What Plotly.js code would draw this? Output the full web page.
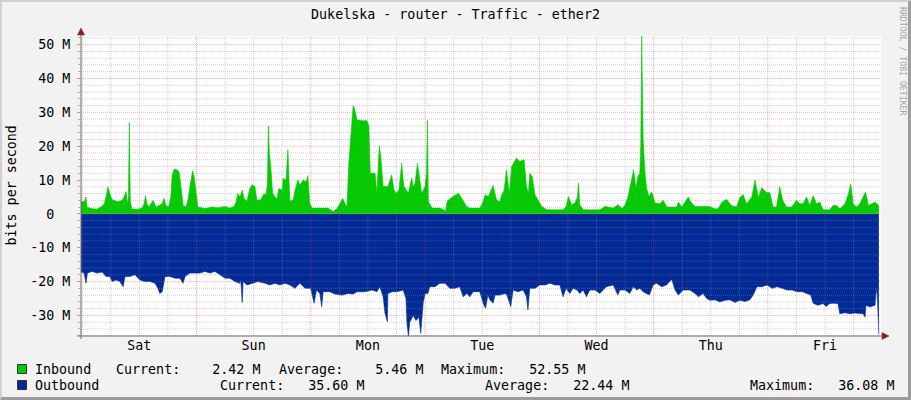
<!DOCTYPE html>
<html><head><meta charset="utf-8">
<script src="https://cdn.plot.ly/plotly-3.0.1.min.js"></script>
<style>
html,body{margin:0;padding:0;background:#F2F2F2;}
#wrap{position:relative;width:911px;height:400px;overflow:hidden;}
#chart{width:911px;height:400px;}
#frame{position:absolute;left:0;top:0;width:911px;height:400px;box-sizing:border-box;border-top:2px solid #D0D0D0;border-left:2px solid #D0D0D0;border-right:3px solid #9C9C9C;border-bottom:3px solid #9C9C9C;pointer-events:none;}
</style></head><body>
<div id="wrap"><div id="chart"></div><div id="frame"></div></div>
<script>
// ---- data (hours since Saturday 00:00, values in Mbit/s) ----
const chartTitle = 'Dukelska - router - Traffic - ether2';
const dayNames = ['Sat','Sun','Mon','Tue','Wed','Thu','Fri'];
const dayTickVals = [12,36,60,84,108,132,156];
const yTickVals = [-30,-20,-10,0,10,20,30,40,50];
const yTickText = ['-30 M','-20 M','-10 M','0\u00a0\u00a0','10 M','20 M','30 M','40 M','50 M'];
const seriesNames = ['Inbound','Outbound'];
const statNames = ['Current','Average','Maximum'];
const inStats = [2.42, 5.46, 52.55];
const outStats = [35.60, 22.44, 36.08];

const inTime = [-0.25,0.4,0.8,1.0,2.1,3.1,3.9,4.6,5.0,5.4,5.8,6.3,7.5,8.4,8.8,9.2,9.5,9.7,9.9,10.1,10.4,11.5,12.6,13.0,13.3,13.6,14.0,14.9,15.5,16.3,16.8,17.2,17.6,18.2,18.6,18.9,19.3,19.9,20.3,20.5,20.9,21.2,21.8,22.2,22.6,23.2,23.5,23.7,24.0,24.3,25.8,27.3,28.5,30.0,31.0,31.9,32.3,32.7,33.1,33.6,34.0,34.6,35.2,35.7,36.3,36.7,37.5,38.2,38.6,38.9,39.1,39.3,39.6,40.0,40.5,40.9,41.3,42.0,42.2,42.8,43.2,43.4,43.6,44.3,44.7,45.3,45.7,46.4,47.0,47.4,47.8,48.3,49.9,51.6,52.7,53.5,54.1,54.7,55.2,55.6,56.0,56.6,56.9,57.2,57.7,58.8,59.8,60.2,60.5,61.5,61.9,62.2,62.4,62.7,63.2,64.2,65.0,65.5,66.0,66.5,67.1,67.4,67.6,68.5,69.2,69.5,69.9,70.4,70.9,71.3,72.0,72.3,72.5,72.7,73.5,75.1,76.2,76.3,76.6,76.9,77.9,79.0,79.7,80.7,81.4,83.5,84.1,84.6,85.3,85.6,86.3,87.0,87.7,88.1,88.6,89.1,89.7,90.2,90.9,91.2,91.9,92.8,93.3,93.7,94.0,94.5,95.1,95.8,96.5,97.6,99.3,101.0,101.6,102.1,102.8,103.5,104.0,104.2,104.5,105.2,107.1,108.7,109.8,111.5,112.5,113.4,114.0,114.6,115.2,115.8,116.3,116.7,117.1,117.3,117.5,117.7,117.8,118.2,118.5,119.0,119.6,120.3,121.3,122.0,122.8,123.9,124.9,125.2,125.9,126.6,127.3,127.8,128.7,130.2,131.8,132.7,133.5,134.4,135.3,136.4,137.4,138.1,138.8,139.5,140.6,141.3,142.0,142.7,143.7,144.4,145.1,145.8,146.5,147.1,147.9,149.0,150.0,150.7,151.4,152.1,152.8,153.5,154.2,154.9,155.6,157.0,157.7,158.4,159.1,160.2,160.9,161.4,161.9,162.6,163.3,164.0,164.5,165.1,165.8,166.5,167.3];
const inBits = [3.8,3.5,5.0,2.0,1.5,1.4,2.0,2.8,5.0,8.0,6.0,4.2,3.6,4.0,5.0,6.6,3.0,5.0,27.0,4.0,1.5,1.3,1.8,3.0,5.4,3.0,2.0,4.0,2.0,2.5,3.0,4.6,2.4,2.2,5.0,11.5,13.2,13.0,12.5,11.0,6.0,2.5,2.0,4.0,8.0,12.7,11.0,8.5,3.8,2.0,1.6,2.0,1.8,2.2,1.7,2.2,3.5,6.0,5.0,7.0,4.5,3.8,7.5,8.6,8.0,4.0,4.2,6.0,5.5,9.0,26.0,18.0,14.0,6.0,5.0,4.5,7.5,7.0,10.5,10.0,19.0,8.0,3.8,4.0,7.0,10.0,8.5,10.0,9.5,11.3,3.0,1.7,1.6,1.7,0.7,1.5,3.0,4.6,3.0,2.2,15.0,24.8,32.0,31.0,27.8,27.5,27.5,26.0,12.0,12.0,6.1,15.0,20.1,17.0,8.1,8.1,11.5,7.0,6.1,7.0,15.0,10.0,8.1,6.1,10.6,8.1,9.0,15.0,9.1,6.0,8.1,12.0,27.6,3.6,1.7,1.7,1.0,0.7,3.5,4.1,5.1,6.1,4.6,2.2,1.7,1.7,3.2,5.6,5.1,6.1,8.4,4.1,3.6,5.6,7.0,13.0,6.1,14.0,15.8,16.5,15.5,16.0,8.1,6.1,12.0,11.0,5.6,4.1,2.2,1.2,1.2,1.2,2.0,5.1,2.7,3.2,5.0,9.1,2.7,1.2,1.2,1.2,2.2,1.7,2.7,1.6,2.6,5.0,9.0,13.0,7.7,11.0,12.0,20.0,52.55,30.0,21.9,12.0,7.8,5.1,6.5,3.2,3.0,4.0,2.0,2.0,2.0,3.5,2.0,3.5,5.0,3.5,2.2,2.2,2.2,1.5,1.5,3.5,4.3,2.4,2.0,4.8,5.7,3.0,4.9,10.0,4.8,7.7,6.3,6.3,2.0,2.0,8.0,4.0,2.0,2.0,4.0,3.0,3.0,5.0,2.5,5.4,3.0,3.5,1.2,1.2,2.5,2.5,1.5,3.0,5.9,8.9,3.0,2.0,3.0,5.0,6.5,2.5,3.0,3.5,2.42];

const outTime = [-0.25,0.4,0.8,1.1,2.1,3.1,4.2,5.0,5.8,6.3,7.1,7.9,8.6,9.0,10.0,11.1,12.1,13.2,14.2,15.3,15.9,16.3,16.8,17.4,18.4,19.5,20.5,21.2,21.6,22.6,23.7,24.7,25.8,26.8,27.9,28.9,30.0,31.0,32.1,33.1,33.3,33.6,33.8,34.6,35.7,36.9,38.4,39.4,40.5,41.5,42.6,43.6,44.7,45.7,46.8,48.0,48.7,49.2,49.9,50.3,50.6,52.0,53.1,54.6,55.8,56.9,57.7,59.4,60.9,61.9,62.5,63.2,63.6,64.1,64.2,65.1,66.1,67.4,68.0,68.2,68.5,68.8,69.5,70.1,70.7,71.1,71.6,72.0,72.6,73.0,74.1,75.1,76.2,77.2,78.3,79.3,80.0,80.8,81.4,82.1,83.5,84.2,84.7,85.2,85.6,86.3,86.7,87.7,88.8,89.2,90.0,90.5,91.5,92.6,93.3,93.6,94.0,95.1,96.1,97.2,98.2,99.3,100.3,101.0,101.6,102.4,103.1,103.9,104.5,105.2,105.9,106.6,107.7,108.7,109.4,110.1,111.5,112.5,112.9,114.0,115.0,115.7,116.5,117.1,117.8,119.1,119.9,120.6,121.7,122.7,123.8,124.5,125.2,126.2,127.6,128.7,129.4,130.4,131.1,131.8,132.9,133.9,135.0,136.0,137.1,138.1,139.2,140.2,140.9,141.7,142.8,143.8,144.9,145.9,147.0,148.0,149.1,150.1,151.2,152.2,153.0,153.5,154.5,155.6,156.2,157.0,157.7,158.7,159.1,160.2,161.2,162.3,163.3,164.0,164.4,164.6,165.4,166.5,166.8,167.0,167.3];
const outBits = [-17.1,-17.5,-20.5,-17.5,-17,-17.5,-17.2,-18.5,-18.5,-20,-19.5,-20,-21.5,-18.5,-18.5,-18,-19.5,-20,-20,-20.5,-22,-23.5,-23,-18.5,-18.5,-19,-19,-20.5,-18.5,-17.5,-17.5,-17.5,-17,-17.5,-17,-18,-19,-19,-20,-20.5,-19.5,-26.2,-20,-21,-20.5,-20,-20.5,-21,-20.5,-21,-20.5,-21,-22,-20.5,-22,-22,-26.4,-22.5,-23.5,-27.4,-23,-23,-23.7,-24,-23.5,-23.7,-23,-23,-22.5,-23,-21.5,-24.5,-29.4,-31.9,-23.5,-23,-23,-22.5,-25,-32.3,-36.08,-32,-30,-31.5,-30.5,-35.3,-26.4,-23.5,-23.5,-21.5,-21.5,-20.5,-20.5,-22,-22,-21.5,-24.5,-23.5,-24.5,-23,-23,-26.4,-27.9,-24,-25.4,-26.4,-24,-24,-23.5,-24,-27.4,-22.5,-23,-22.5,-24.5,-28.4,-22,-22,-21,-21,-20.5,-21,-21,-24.5,-22,-23.5,-22,-22.5,-23.5,-22.5,-24.5,-22.5,-22.5,-23.5,-22.5,-21.5,-21,-24,-22.5,-22.5,-23.5,-21.5,-22.5,-22,-23,-24,-21,-20.5,-21.5,-21,-19.3,-22.5,-24,-22.5,-22.5,-23.5,-24.5,-23.5,-24.9,-25.5,-25.4,-26,-25.5,-25.4,-26.2,-25.5,-25.9,-25.4,-24,-21.5,-21.5,-21,-22,-21.5,-22,-22.5,-22.5,-23,-23,-23.5,-24,-26.4,-27,-26.5,-27.4,-26.5,-26.4,-26.5,-29.5,-29.2,-29.5,-29.3,-29.5,-29.5,-30.5,-27,-27.5,-27,-21.5,-25,-35.6];

// ---- styling ----
const FONT = 'DejaVu Sans Mono';
const FS = 13.33;
const GREEN = '#00CC00';
const BLUE = '#002A97';
const MINOR = 'rgba(140,140,140,0.42)';
const MAJOR = 'rgba(235,60,60,0.42)';
const X_RANGE = [-0.25, 167.75];
const Y_RANGE = [-36.08, 52.55];
const ML = 81, MT = 36, PW = 800, PH = 300;
const px2x = px => (px - ML) / PW;
const py2y = py => (MT + PH - py) / PH;
const nb = s => s.replace(/ /g, '\u00a0');

const traces = [
  {x: outTime, y: outBits, type: 'scatter', mode: 'lines', fill: 'tozeroy', fillcolor: BLUE,
   line: {color: BLUE, width: 0.6}, name: seriesNames[1], hoverinfo: 'skip'},
  {x: inTime, y: inBits, type: 'scatter', mode: 'lines', fill: 'tozeroy', fillcolor: GREEN,
   line: {color: GREEN, width: 0.6}, name: seriesNames[0], hoverinfo: 'skip'}
];

const shapes = [];
// horizontal grid (drawn above data, like rrdtool)
for (let v = Math.ceil(Y_RANGE[0] / 2) * 2; v <= Y_RANGE[1]; v += 2) {
  const major = (v % 10 === 0);
  shapes.push({type: 'line', layer: 'above', xref: 'paper', yref: 'y', x0: 0, x1: 1, y0: v, y1: v,
    line: {color: major ? MAJOR : MINOR, width: 1, dash: '1px,1px'}});
}
// vertical grid
for (let h = 0; h <= X_RANGE[1]; h += 6) {
  const major = (h % 24 === 0);
  shapes.push({type: 'line', layer: 'above', xref: 'x', yref: 'paper', x0: h, x1: h, y0: 0, y1: 1,
    line: {color: major ? MAJOR : MINOR, width: 1, dash: '1px,1px'}});
}
// axes lines + arrows
const AXIS = '#6A6A6A', ARROW = '#8A1C1C';
shapes.push({type: 'line', layer: 'above', xref: 'paper', yref: 'paper', x0: px2x(81), x1: px2x(81), y0: py2y(339), y1: py2y(31), line: {color: AXIS, width: 1}});
shapes.push({type: 'line', layer: 'above', xref: 'paper', yref: 'paper', x0: px2x(77), x1: px2x(883), y0: py2y(336), y1: py2y(336), line: {color: AXIS, width: 1}});
shapes.push({type: 'path', layer: 'above', xref: 'paper', yref: 'paper',
  path: `M${px2x(77.5)},${py2y(35)} L${px2x(84.5)},${py2y(35)} L${px2x(81)},${py2y(28)} Z`,
  fillcolor: ARROW, line: {color: ARROW, width: 0.5}});
shapes.push({type: 'path', layer: 'above', xref: 'paper', yref: 'paper',
  path: `M${px2x(882)},${py2y(332.5)} L${px2x(882)},${py2y(339.5)} L${px2x(889)},${py2y(336)} Z`,
  fillcolor: ARROW, line: {color: ARROW, width: 0.5}});
// legend swatches
shapes.push({type: 'rect', xref: 'paper', yref: 'paper', x0: px2x(17.5), x1: px2x(26.5), y0: py2y(373.5), y1: py2y(364.5),
  fillcolor: GREEN, line: {color: '#333', width: 1}});
shapes.push({type: 'rect', xref: 'paper', yref: 'paper', x0: px2x(17.5), x1: px2x(26.5), y0: py2y(389.5), y1: py2y(380.5),
  fillcolor: BLUE, line: {color: '#333', width: 1}});

const statStr = (name, v) => name + ':' + v.toFixed(2).padStart(8) + ' M';
const txt = (text, xpx, ypx, extra) => Object.assign({
  text: nb(text), xref: 'paper', yref: 'paper', x: px2x(xpx), y: py2y(ypx),
  xanchor: 'left', yanchor: 'middle', showarrow: false, borderpad: 0,
  font: {family: FONT, size: FS, color: '#000'}
}, extra || {});

const annotations = [
  txt(seriesNames[0], 34, 369),
  txt(statStr(statNames[0], inStats[0]), 115, 369),
  txt(statStr(statNames[1], inStats[1]), 278, 369),
  txt(statStr(statNames[2], inStats[2]), 440, 369),
  txt(seriesNames[1], 34, 385),
  txt(statStr(statNames[0], outStats[0]), 219, 385),
  txt(statStr(statNames[1], outStats[1]), 484, 385),
  txt(statStr(statNames[2], outStats[2]), 749, 385),
  txt('bits per second', 10.5, 186, {xanchor: 'center', textangle: -90}),
  txt('RRDTOOL / TOBI OETIKER', 903, 61, {xanchor: 'center', textangle: 90,
    font: {family: FONT, size: 8.2, color: '#A8A8A8'}})
];

const layout = {
  width: 911, height: 400,
  margin: {l: ML, r: 911 - ML - PW, t: MT, b: 400 - MT - PH, pad: 0},
  paper_bgcolor: '#F2F2F2', plot_bgcolor: '#FFFFFF',
  showlegend: false,
  title: {text: chartTitle, font: {family: FONT, size: FS, color: '#000'},
          x: 0.5, xref: 'container', xanchor: 'center', y: 1 - 14.5 / 400, yref: 'container', yanchor: 'middle'},
  xaxis: {range: X_RANGE, tickmode: 'array', tickvals: dayTickVals, ticktext: dayNames,
          showgrid: false, zeroline: false, showline: false, ticks: '',
          tickfont: {family: FONT, size: FS, color: '#000'}, fixedrange: true},
  yaxis: {range: Y_RANGE, tickmode: 'array', tickvals: yTickVals, ticktext: yTickText,
          showgrid: false, zeroline: false, showline: false, ticks: 'outside', ticklen: 3,
          tickcolor: '#E08080', ticklabelstandoff: 4,
          minor: {ticks: 'outside', ticklen: 2, tickcolor: '#B0B0B0', tick0: 0, dtick: 2, showgrid: false},
          tickfont: {family: FONT, size: FS, color: '#000'}, fixedrange: true},
  shapes: shapes,
  annotations: annotations
};

Plotly.newPlot('chart', traces, layout, {staticPlot: true, displayModeBar: false});
</script>
</body></html>
